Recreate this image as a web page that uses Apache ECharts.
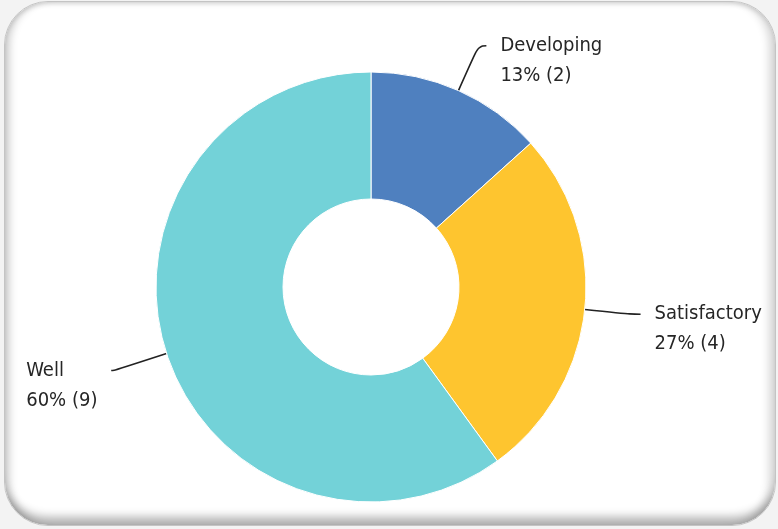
<!DOCTYPE html>
<html>
<head>
<meta charset="utf-8">
<script src="https://cdn.jsdelivr.net/npm/echarts@6/dist/echarts.min.js"></script>
<style>
  html, body { margin: 0; padding: 0; background: #f3f3f3; }
  #frame {
    position: absolute; left: 4px; top: 1px; width: 772px; height: 525px;
    border-radius: 44px; background: #ffffff; box-sizing: border-box;
    border: 1px solid #c4c4c4;
    box-shadow:
      inset 0 -14px 10px -6px rgba(0,0,0,0.30),
      inset 9px 0 8px -5px rgba(0,0,0,0.22),
      inset -11px 0 8px -5px rgba(0,0,0,0.16),
      inset 0 5px 5px -3px rgba(0,0,0,0.14);
  }
  #chart {
    position: absolute; left: 0; top: 0; width: 759px; height: 523px;
    overflow: hidden;
  }
</style>
</head>
<body>
<div id="frame"><div id="chart"></div></div>
<script>
  // Ratings breakdown
  const categories = ['Developing', 'Satisfactory', 'Well'];
  const counts = [2, 4, 9];
  const colors = ['#4f80bf', '#fec52f', '#73d2d8'];

  // label line lengths per slice (radial, horizontal)
  const lineLengths = [[49, 8], [45, 11], [55, 3]];

  const labelFont = 'DejaVu Sans Condensed';

  const data = categories.map((name, i) => {
    const item = {
      name: name,
      value: counts[i],
      itemStyle: { color: colors[i] },
      labelLine: { length: lineLengths[i][0], length2: lineLengths[i][1] }
    };
    if (i === 2) {
      // left-side label: keep lines left aligned within a fixed box
      item.label = {
        formatter: '{t| }\n{t|{b}}\n{t|{d}% ({c})}',
        rich: { t: { width: 71, align: 'left', fontSize: 20, lineHeight: 30,
                     color: '#262626', fontFamily: labelFont } }
      };
    }
    return item;
  });

  const chart = echarts.init(document.getElementById('chart'), null, { renderer: 'canvas' });
  chart.setOption({
    animation: false,
    backgroundColor: 'transparent',
    series: [{
      type: 'pie',
      center: [366, 285],
      radius: [88, 215],
      startAngle: 90,
      clockwise: true,
      percentPrecision: 0,
      avoidLabelOverlap: false,
      itemStyle: { borderColor: '#ffffff', borderWidth: 1 },
      label: {
        show: true,
        // leading blank line keeps the connector level with the name line
        formatter: ' \n{b}\n{d}% ({c})',
        fontFamily: labelFont,
        fontSize: 20,
        lineHeight: 30,
        color: '#262626',
        distanceToLabelLine: 14
      },
      labelLine: {
        show: true,
        smooth: 0.5,
        lineStyle: { color: '#222', width: 1.6 }
      },
      emphasis: { disabled: true },
      data: data
    }]
  });
</script>
</body>
</html>
